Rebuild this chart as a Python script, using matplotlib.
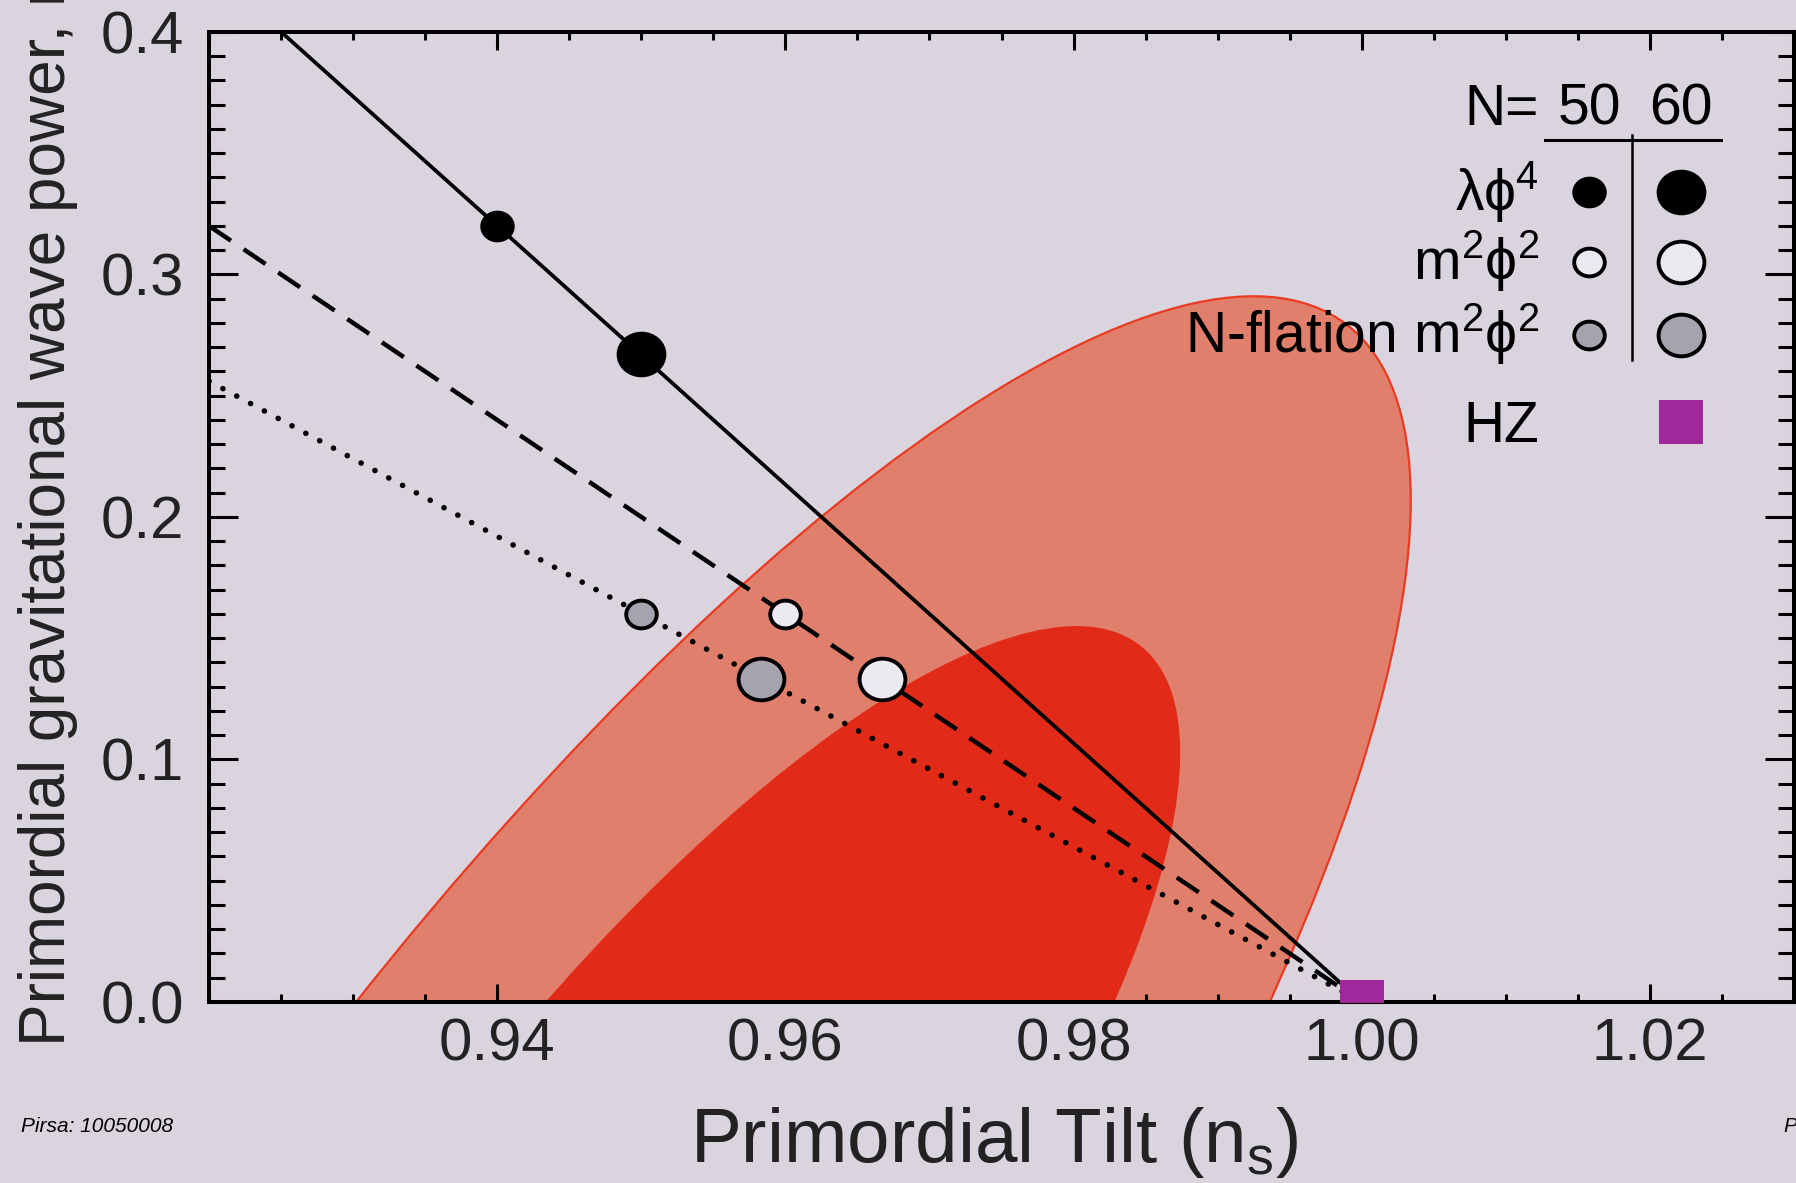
import numpy as np
import matplotlib
matplotlib.use("Agg")
import matplotlib.pyplot as plt
import matplotlib.ticker as mtick
from matplotlib.patches import Ellipse
from matplotlib.path import Path
from matplotlib.transforms import Affine2D

# inflation model predictions (n_s, r) at N = 50 and N = 60 e-folds
phi4_ns = [0.940, 0.950]
phi4_r = [0.320, 0.267]
m2phi2_ns = [0.960, 0.9667]
m2phi2_r = [0.160, 0.133]
nflation_ns = [0.950, 0.9583]
nflation_r = [0.160, 0.133]

# model tracks across the plotted n_s range
phi4_line_ns = [0.92, 1.00]
phi4_line_r = [0.4267, 0.0]
m2phi2_line_ns = [0.92, 1.00]
m2phi2_line_r = [0.320, 0.0]
nflation_line_ns = [0.92, 1.00]
nflation_line_r = [0.256, 0.0]

# Harrison-Zel'dovich point
hz_ns = [1.00]
hz_r = [0.0]

# likelihood contours: centre (n_s, r), half-widths, correlation
outer_center = (0.9454, -0.157)
outer_sigma = (0.058, 0.448)
outer_rho = 0.812
inner_center = (0.9514, -0.106)
inner_sigma = (0.036, 0.261)
inner_rho = 0.80

xticks = [0.94, 0.96, 0.98, 1.00, 1.02]
yticks = [0.0, 0.1, 0.2, 0.3, 0.4]

bg = '#d9d4de'
light_red = '#e0806c'
dark_red = '#e12a18'
purple = '#a0289a'
gray_fill = '#a6a2ae'
white_fill = '#ece9f0'
ink = '#222222'

plt.rcParams['font.family'] = ['Liberation Sans', 'DejaVu Sans']
plt.rcParams['mathtext.default'] = 'regular'
plt.rcParams['lines.scale_dashes'] = False


def contour_ellipse(center, sigma, rho, **kw):
    cov = np.array([[sigma[0] ** 2, rho * sigma[0] * sigma[1]],
                    [rho * sigma[0] * sigma[1], sigma[1] ** 2]])
    vals, vecs = np.linalg.eigh(cov)
    angle = np.degrees(np.arctan2(vecs[1, 1], vecs[0, 1]))
    return Ellipse(center, 2 * np.sqrt(vals[1]), 2 * np.sqrt(vals[0]),
                   angle=angle, **kw)


# the slide was stretched sideways a little, so the dots are too
dot = Affine2D().scale(1.1, 1.0).transform_path(Path.unit_circle())

fig = plt.figure(figsize=(17.96, 11.83), dpi=100, facecolor=bg)
ax = fig.add_axes([0.1164, 0.1530, 0.8825, 0.8200], facecolor=bg)

ax.add_patch(contour_ellipse(outer_center, outer_sigma, outer_rho,
                             facecolor=light_red, edgecolor='#ea3a22',
                             linewidth=1.6, zorder=1))
ax.add_patch(contour_ellipse(inner_center, inner_sigma, inner_rho,
                             facecolor=dark_red, edgecolor='none', zorder=2))

ax.plot(phi4_line_ns, phi4_line_r, color='black', lw=2.7, zorder=3)
ax.plot(m2phi2_line_ns, m2phi2_line_r, color='black', lw=3.2,
        dashes=(19, 11), zorder=3)
ax.plot(nflation_line_ns, nflation_line_r, color='black', lw=4.0,
        dashes=(0.1, 11.2), dash_capstyle='round', zorder=3)

small, large, mew = 22, 33, 2.8
styles = [(phi4_ns, phi4_r, 'black'),
          (m2phi2_ns, m2phi2_r, white_fill),
          (nflation_ns, nflation_r, gray_fill)]
for ns, r, fc in styles:
    ax.plot(ns[0], r[0], marker=dot, ms=small, mfc=fc, mec='black',
            mew=mew, ls='none', zorder=5)
    ax.plot(ns[1], r[1], marker=dot, ms=large, mfc=fc, mec='black',
            mew=mew, ls='none', zorder=5)

ax.plot(hz_ns, hz_r, marker='s', ms=32, color=purple, mew=0, ls='none',
        zorder=4)

ax.set_xlim(0.92, 1.03)
ax.set_ylim(0.0, 0.4)
ax.set_xticks(xticks)
ax.set_yticks(yticks)
ax.xaxis.set_minor_locator(mtick.MultipleLocator(0.005))
ax.yaxis.set_minor_locator(mtick.MultipleLocator(0.01))
ax.xaxis.set_major_formatter(mtick.FormatStrFormatter('%.2f'))
ax.yaxis.set_major_formatter(mtick.FormatStrFormatter('%.1f'))
ax.tick_params(which='both', direction='in', top=True, right=True,
               width=2.2, labelsize=43, colors='black')
ax.tick_params(axis='x', which='major', length=13, pad=11)
ax.tick_params(axis='x', which='minor', length=6)
ax.tick_params(axis='y', which='major', length=21, pad=18)
ax.tick_params(axis='y', which='minor', length=11.5)
ax.tick_params(labelcolor=ink)
for s in ax.spines.values():
    s.set_linewidth(2.9)

ax.set_xlabel('Primordial Tilt (n$_s$)', fontsize=55, color=ink)
ax.xaxis.set_label_coords(0.495, -0.106)
ax.set_ylabel('Primordial gravitational wave power, r', fontsize=46,
              color=ink)
ax.yaxis.set_label_coords(-0.083, 0.502)

# legend table, drawn in axes fractions
tr = ax.transAxes
leg_fs = 41
col1, col2 = 0.8707, 0.9287
rows = [0.8351, 0.7629, 0.6876]
ax.text(0.839, 0.9041, 'N=', transform=tr, ha='right', va='baseline',
        fontsize=leg_fs)
ax.text(col1, 0.9041, '50', transform=tr, ha='center', va='baseline',
        fontsize=leg_fs)
ax.text(col2, 0.9041, '60', transform=tr, ha='center', va='baseline',
        fontsize=leg_fs)
ax.plot([0.8429, 0.9539], [0.8887, 0.8887], transform=tr, color='black',
        lw=2.2, clip_on=False)
ax.plot([0.8978, 0.8978], [0.894, 0.662], transform=tr, color='black',
        lw=1.8, clip_on=False)
labels = ['λϕ$^4$', 'm$^2$ϕ$^2$', 'N-flation m$^2$ϕ$^2$']
for y, lab, (_, _, fc) in zip(rows, labels, styles):
    ax.text(0.8391, y - 0.0186, lab, transform=tr, ha='right',
            va='baseline', fontsize=leg_fs, zorder=6)
    ax.plot(col1, y, transform=tr, marker=dot, ms=small, mfc=fc,
            mec='black', mew=mew, zorder=6)
    ax.plot(col2, y, transform=tr, marker=dot, ms=large, mfc=fc,
            mec='black', mew=mew, zorder=6)
ax.text(0.8391, 0.5979 - 0.0206, 'HZ', transform=tr, ha='right',
        va='baseline', fontsize=leg_fs)
ax.plot(col2, 0.5979, transform=tr, marker='s', ms=31, color=purple,
        mew=0)

fig.text(0.0117, 0.0431, 'Pirsa: 10050008', fontsize=15, style='italic')
fig.text(0.9928, 0.0431, 'Page', fontsize=15, style='italic')

fig.savefig('out.png', dpi=100, facecolor=bg)
